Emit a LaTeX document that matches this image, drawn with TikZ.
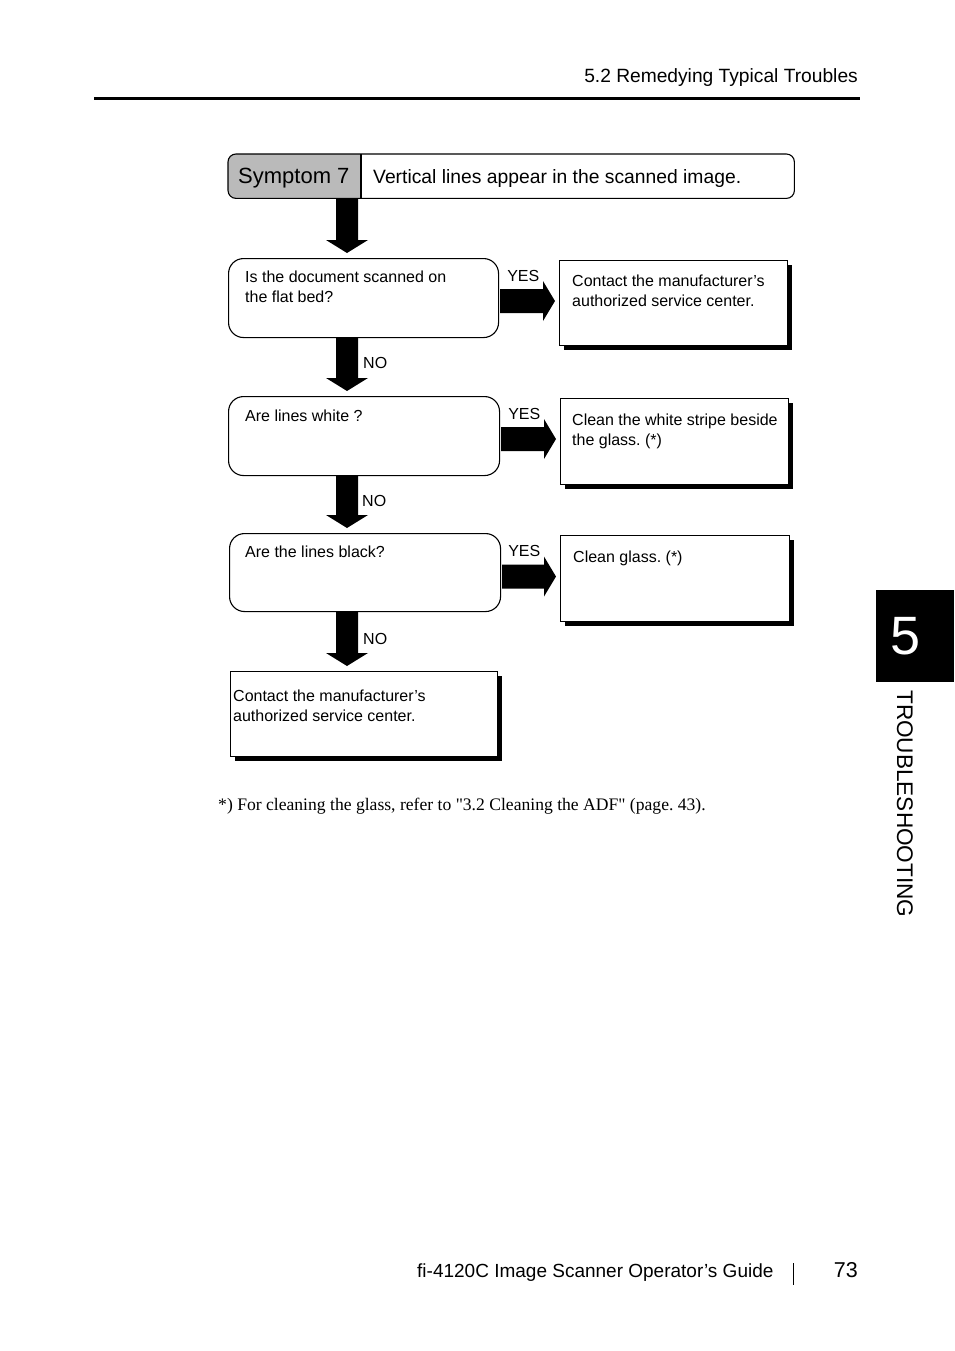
\documentclass[tikz,border=0pt]{standalone}
\usepackage{fontspec}
\setmainfont{Liberation Sans}
\newfontfamily\seriffont{Liberation Serif}
\usetikzlibrary{calc,shadows}
\frenchspacing
\newcommand\vflow[2]{\fill let \p1=(#1), \p2=(#2) in (\x1-11pt,\y1) -- (\x1+11pt,\y1) -- (\x1+11pt,\y2+13pt) -- (\x1+21pt,\y2+13pt) -- (\x1,\y2) -- (\x1-21pt,\y2+13pt) -- (\x1-11pt,\y2+13pt) -- cycle;}
\newcommand\hflow[2]{\fill let \p1=(#1), \p2=(#2) in (\x1,\y1+12pt) -- (\x2-12pt,\y1+12pt) -- (\x2-12pt,\y1+20pt) -- (\x2,\y1) -- (\x2-12pt,\y1-20pt) -- (\x2-12pt,\y1-12pt) -- (\x1,\y1-12pt) -- cycle;}
\begin{document}
\frenchspacing
\begin{tikzpicture}[x=1pt,y=-1pt,
  f16/.style={font=\fontsize{16}{19.5}\selectfont},
  qbox/.style={draw, line width=1.1pt, rounded corners=15pt, inner sep=0, anchor=north west, fill=white},
  rbox/.style={draw, line width=1.1pt, inner sep=0, anchor=north west, fill=white,
     drop shadow={shadow xshift=4.5pt, shadow yshift=-4.5pt, opacity=1, fill=black}},
  txt/.style={f16, inner sep=0, align=left, anchor=base west},
  lbl/.style={f16, inner sep=0, anchor=base west}]
\useasboundingbox (0,0) rectangle (954,1351);
% header
\node[font=\fontsize{19.2}{22}\selectfont, inner sep=0, anchor=base east] (head) at (858,83) {5.2 Remedying Typical Troubles};
\coordinate (rl) at (94,99);
\coordinate (rr) at (860,99);
\draw[line width=3pt] (rl) -- (rr);
% symptom
\node[minimum width=566pt, minimum height=44pt, inner sep=0, anchor=north west] (sym) at (228,154) {};
\begin{scope}
\clip[rounded corners=8pt] (sym.north west) rectangle (sym.south east);
\fill[black!27] (sym.north west) rectangle ($(sym.south west)+(133,0)$);
\end{scope}
\draw[line width=1.1pt, rounded corners=8pt] (sym.north west) rectangle (sym.south east);
\draw[line width=1.1pt] ($(sym.north west)+(133,0)$) -- ($(sym.south west)+(133,0)$);
\node[font=\fontsize{22}{26}\selectfont, inner sep=0, anchor=base west] (symt) at (238,183) {Symptom 7};
\node[font=\fontsize{19.3}{22}\selectfont, inner sep=0, anchor=base west] (symd) at (373,183) {Vertical lines appear in the scanned image.};
% boxes
\node[qbox, minimum width=270pt, minimum height=79pt] (q1) at (228,258) {};
\node[rbox, minimum width=228pt, minimum height=85pt] (r1) at (559,260) {};
\node[qbox, minimum width=271pt, minimum height=79pt] (q2) at (228,396) {};
\node[rbox, minimum width=228pt, minimum height=86pt] (r2) at (560,398) {};
\node[qbox, minimum width=271pt, minimum height=78pt] (q3) at (229,533) {};
\node[rbox, minimum width=229pt, minimum height=86pt] (r3) at (560,535) {};
\node[rbox, minimum width=267pt, minimum height=85pt] (fin) at (230,671) {};
% texts (anchor = baseline of last line)
\node[txt] (q1t) at ($(q1.north west)+(17,44)$) {Is the document scanned on\\the flat bed?};
\node[txt] (r1t) at ($(r1.north west)+(13,46)$) {Contact the manufacturer’s\\authorized service center.};
\node[txt] (q2t) at ($(q2.north west)+(17,25)$) {Are lines white ?};
\node[txt] (r2t) at ($(r2.north west)+(12,47)$) {Clean the white stripe beside\\the glass. (*)};
\node[txt] (q3t) at ($(q3.north west)+(16,24)$) {Are the lines black?};
\node[txt] (r3t) at ($(r3.north west)+(13,27)$) {Clean glass. (*)};
\node[txt] (fint) at ($(fin.north west)+(3,50)$) {Contact the manufacturer’s\\authorized service center.};
% arrows
\coordinate (colx) at (347,0);
\vflow{sym.south -| colx}{$(q1.north -| colx)+(0,-5)$}
\vflow{q1.south -| colx}{$(q2.north -| colx)+(0,-5)$}
\vflow{q2.south -| colx}{$(q3.north -| colx)+(0,-5)$}
\vflow{q3.south -| colx}{$(fin.north -| colx)+(0,-5)$}
\hflow{$(q1.east)+(1,3)$}{$(r1.west |- q1.east)+(-4,3)$}
\hflow{$(q2.east)+(1,3)$}{$(r2.west |- q2.east)+(-4,3)$}
\hflow{$(q3.east)+(1,4)$}{$(r3.west |- q3.east)+(-4,4)$}
% labels
\node[lbl] (y1) at ($(q1.east)+(8,-17)$) {YES};
\node[lbl] (y2) at ($(q2.east)+(8,-17)$) {YES};
\node[lbl] (y3) at ($(q3.east)+(7,-16)$) {YES};
\node[lbl] (n1) at ($(q1.south -| colx)+(16,30)$) {NO};
\node[lbl] (n2) at ($(q2.south -| colx)+(15,30)$) {NO};
\node[lbl] (n3) at ($(q3.south -| colx)+(16,32)$) {NO};
% footnote
\node[font=\seriffont\fontsize{17.6}{20}\selectfont, inner sep=0, anchor=base west] (note) at (218,810) {*) For cleaning the glass, refer to "3.2 Cleaning the ADF" (page. 43).};
% tab
\node[fill=black, minimum width=78pt, minimum height=92pt, inner sep=0, anchor=north west] (tab) at (876,590) {};
\node[text=white, font=\fontsize{54}{60}\selectfont, inner sep=0] (tabn) at (905.5,636) {5};
\node[font=\fontsize{22.6}{26}\selectfont, inner sep=0, rotate=-90, anchor=base west] (tabt) at (897,690) {TROUBLESHOOTING};
% footer
\node[font=\fontsize{19}{22}\selectfont, inner sep=0, anchor=base west] (foot) at (417,1277) {fi-4120C Image Scanner Operator’s Guide};
\coordinate (bt) at (793,1263);
\coordinate (bb) at (793,1285);
\draw[line width=1pt] (bt) -- (bb);
\node[font=\fontsize{21.5}{24}\selectfont, inner sep=0, anchor=base east] (pg) at (858,1277) {73};
\end{tikzpicture}
\end{document}
